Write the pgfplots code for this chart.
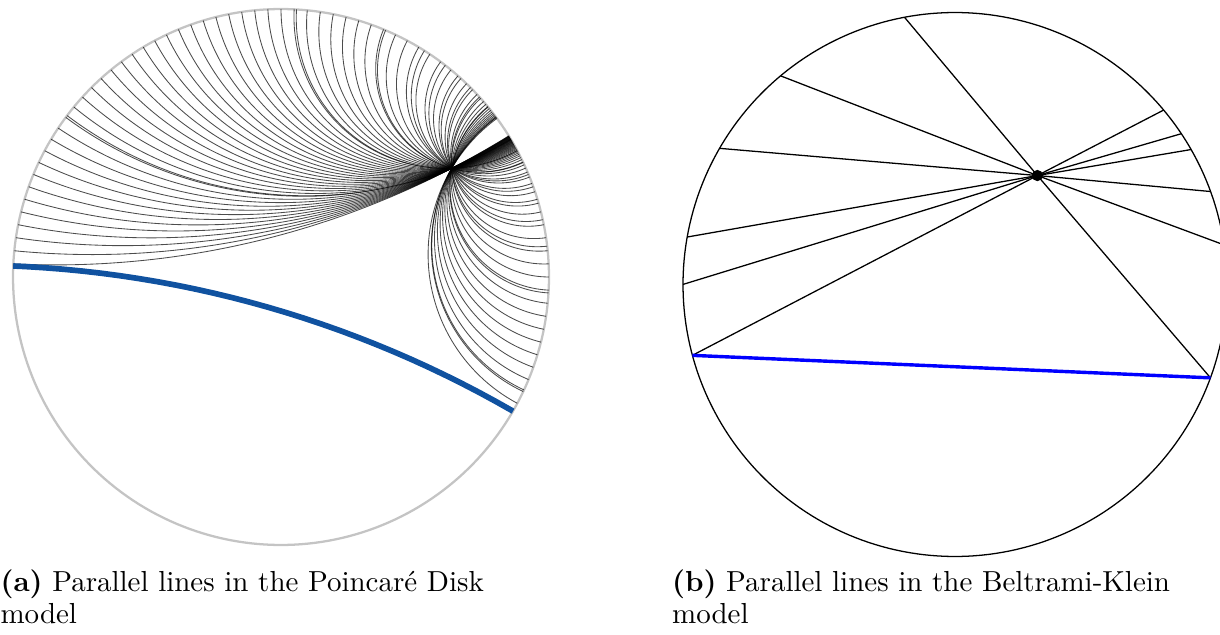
\documentclass[border=0pt]{standalone}
\usepackage{fontspec}
\usepackage{pgfplots}
\pgfplotsset{compat=1.18}
\definecolor{pdblue}{RGB}{16,82,160}
\definecolor{diskgrey}{RGB}{196,196,196}

% Poincare disk: common point P (unit-disk coordinates)
\def\Px{0.637}
\def\Py{0.4056}
\pgfmathsetmacro{\PP}{\Px*\Px+\Py*\Py}

% geodesic through P and the ideal point at angle #1 (degrees)
\newcommand{\geod}[1]{%
  \pgfmathsetmacro{\ca}{cos(#1)}%
  \pgfmathsetmacro{\sa}{sin(#1)}%
  \pgfmathsetmacro{\gT}{(1+\PP-2*(\Px*\ca+\Py*\sa))/(2*(\Py*\ca-\Px*\sa))}%
  \pgfmathsetmacro{\cx}{\ca-\gT*\sa}%
  \pgfmathsetmacro{\cy}{\sa+\gT*\ca}%
  \pgfmathsetmacro{\rr}{abs(\gT)}%
  \pgfmathsetmacro{\pz}{atan2(-\cy,-\cx)}%
  \pgfmathsetmacro{\hw}{atan(1/\rr)}%
  \pgfmathsetmacro{\da}{\pz-\hw}%
  \pgfmathsetmacro{\db}{\pz+\hw}%
  \edef\temp{\noexpand\addplot[fan, domain=\da:\db] ({\cx+\rr*cos(x)},{\cy+\rr*sin(x)});}%
  \temp}

\begin{document}
\begin{tikzpicture}
\path[use as bounding box] (0pt,0pt) rectangle (429.44pt,-223.17pt);

% ---------------- (a) Poincare disk ----------------
\begin{axis}[at={(98.91pt,-97.50pt)}, anchor=center, scale only axis,
  width=188.67pt, height=188.67pt, xmin=-1, xmax=1, ymin=-1, ymax=1,
  hide axis, clip=false,
  fan/.style={black, opacity=0.7, line width=0.3pt, samples=60}]
\addplot[diskgrey, line width=0.8pt, domain=0:360, samples=240] ({cos(x)},{sin(x)});
\pgfplotsforeachungrouped \a in {-28.125,-25.3125,-22.5,-19.6875,-16.875,-14.0625,-11.25,-8.4375,-5.625,-2.8125,0,2.8125,5.625,8.4375,11.25,14.0625,16.875,19.6875,22.5,25.3125,28.125,30.9375,
36.5625,39.375,42.1875,45,47.8125,50.625,53.4375,56.25,59.0625,61.875,64.6875,67.5,70.3125,73.125,75.9375,78.75,81.5625,84.375,87.1875,90,92.8125,95.625,98.4375,101.25,104.0625,106.875,109.6875,112.5,115.3125,118.125,120.9375,123.75,126.5625,129.375,132.1875,135,137.8125,140.625,143.4375,146.25,149.0625,151.875,154.6875,157.5,160.3125,163.125,165.9375,168.75,171.5625,174.375,177.1875}{\geod{\a}}
% the given line (geodesic with ideal ends at 177.6 and -30 degrees)
\addplot[pdblue, line width=2pt, domain=60.0:87.6, samples=100] ({-1.1698+4.0713*cos(x)},{-4.0265+4.0713*sin(x)});
\end{axis}

% ---------------- (b) Beltrami-Klein disk ----------------
\begin{axis}[at={(336.16pt,-100.14pt)}, anchor=center, scale only axis,
  width=191.49pt, height=191.49pt, xmin=-1, xmax=1, ymin=-1, ymax=1,
  hide axis, clip=false]
\addplot[black, line width=0.45pt, domain=0:360, samples=240] ({cos(x)},{sin(x)});
\addplot[black, line width=0.45pt] coordinates {(-0.1858,0.9826) (0.3029,0.4006) (0.9393,-0.3432)};
\addplot[black, line width=0.45pt] coordinates {(-0.6414,0.7672) (0.3029,0.4006) (0.9893,0.1456)};
\addplot[black, line width=0.45pt] coordinates {(-0.8657,0.5006) (0.3029,0.4006) (0.9398,0.3418)};
\addplot[black, line width=0.45pt] coordinates {(-0.9847,0.1745) (0.3029,0.4006) (0.8681,0.4962)};
\addplot[black, line width=0.45pt] coordinates {(-1.0000,0.0003) (0.3029,0.4006) (0.8322,0.5544)};
\addplot[black, line width=0.45pt] coordinates {(-0.9655,-0.2605) (0.3029,0.4006) (0.7672,0.6414)};
\addplot[blue, line width=1.2pt] coordinates {(-0.9655,-0.2605) (0.9393,-0.3432)};
\addplot[black, only marks, mark=*, mark size=1.76pt] coordinates {(0.3029,0.4006)};
\end{axis}

% captions
\begin{scope}[every node/.style={anchor=base west, inner sep=0pt, font=\fontsize{10.2pt}{12pt}\selectfont}]
\node at (0pt,-208.03pt) {\textbf{(a)} Parallel lines in the Poincaré Disk};
\node at (0pt,-219.6pt) {model};
\node at (236.4pt,-208.03pt) {\textbf{(b)} Parallel lines in the Beltrami-Klein};
\node at (236.4pt,-219.6pt) {model};
\end{scope}
\end{tikzpicture}
\end{document}
